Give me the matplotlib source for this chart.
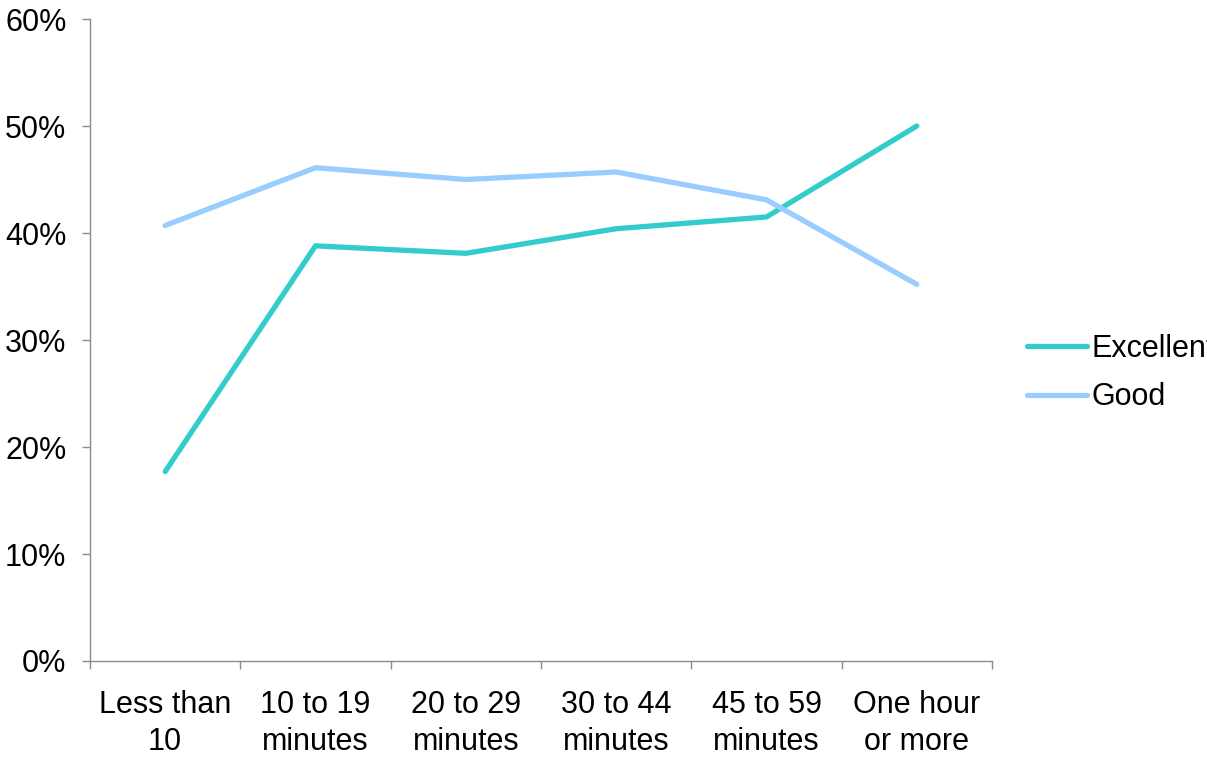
import matplotlib
matplotlib.use("Agg")
import matplotlib.pyplot as plt
from matplotlib.ticker import PercentFormatter

categories = ["Less than\n10", "10 to 19\nminutes", "20 to 29\nminutes",
              "30 to 44\nminutes", "45 to 59\nminutes", "One hour\nor more"]
excellent = [17.7, 38.8, 38.1, 40.4, 41.5, 50.0]
good = [40.7, 46.1, 45.0, 45.7, 43.1, 35.2]

plt.rcParams["font.family"] = ["Liberation Sans", "DejaVu Sans"]
FS = 22

fig = plt.figure(figsize=(12.07, 7.58), dpi=100)
ax = fig.add_axes([90 / 1207, 1 - 661 / 758, 902 / 1207, 642 / 758])

x = list(range(len(categories)))
ax.plot(x, excellent, color="#33CCCC", lw=3.8, solid_capstyle="round",
        solid_joinstyle="round", label="Excellent")
ax.plot(x, good, color="#99CCFF", lw=3.8, solid_capstyle="round",
        solid_joinstyle="round", label="Good")

ax.set_xlim(-0.5, len(categories) - 0.5)
ax.set_ylim(0, 60)
ax.set_yticks(range(0, 61, 10))
ax.yaxis.set_major_formatter(PercentFormatter(decimals=0))

ax.set_xticks([i - 0.5 for i in range(len(categories) + 1)])
ax.set_xticklabels([])
ax.set_xticks(x, minor=True)
ax.set_xticklabels(categories, minor=True, fontsize=FS, linespacing=1.3)

spine_color = "#8C8C8C"
for s in ("top", "right"):
    ax.spines[s].set_visible(False)
for s in ("left", "bottom"):
    ax.spines[s].set_color(spine_color)
    ax.spines[s].set_linewidth(1.0)

ax.tick_params(axis="y", which="major", length=6, width=1.0, color=spine_color,
               labelsize=FS, pad=11)
ax.tick_params(axis="x", which="major", length=6, width=1.0, color=spine_color)
ax.tick_params(axis="x", which="minor", length=0, pad=21)

fig.legend(loc="center left", bbox_to_anchor=(1027 / 1207, 1 - 373 / 758),
           frameon=False, fontsize=FS, handlelength=1.95, handletextpad=0.15,
           labelspacing=0.62, borderaxespad=0, borderpad=0)

fig.savefig("out.png", dpi=100, facecolor="white")
